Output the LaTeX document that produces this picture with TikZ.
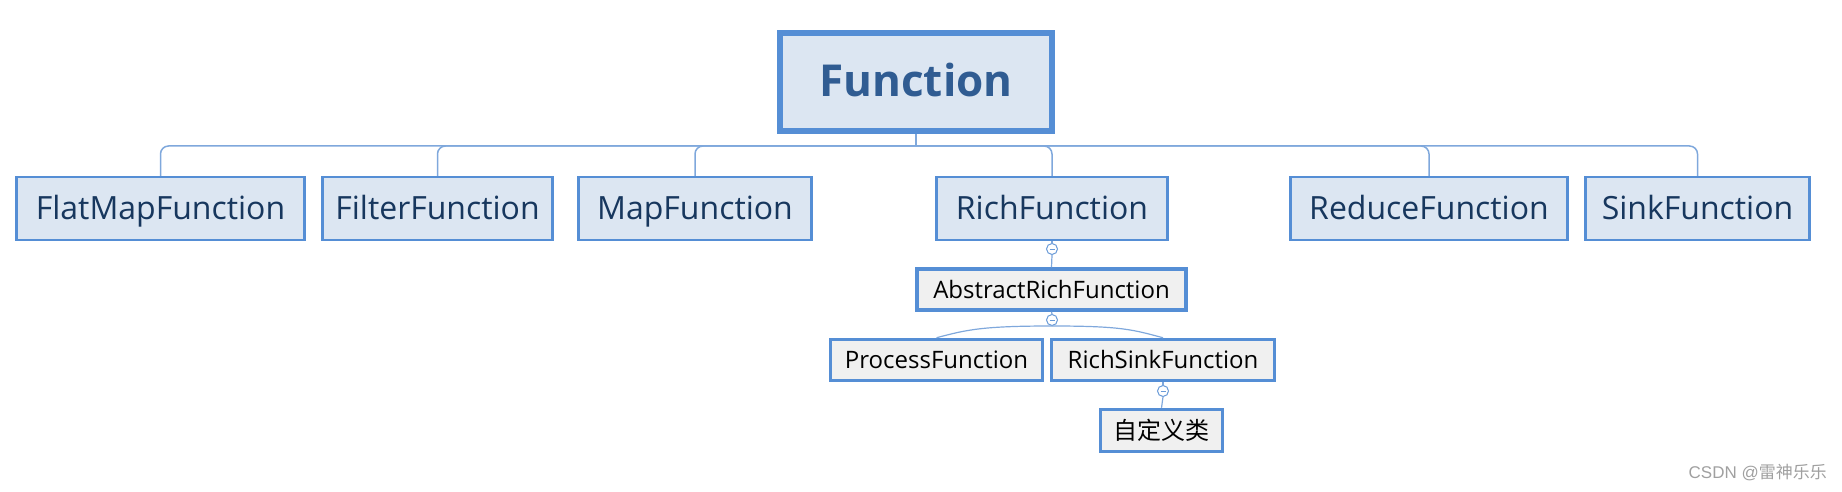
\documentclass[tikz,border=0pt]{standalone}
\usepackage{fontspec}
\setmainfont{Open Sans}
\newfontfamily\cjk{Noto Sans CJK SC}
\newfontfamily\wmlatin{Liberation Sans}
\definecolor{boxblue}{HTML}{558ED5}
\definecolor{lightblue}{HTML}{DCE6F2}
\definecolor{subgray}{HTML}{F0F0F0}
\definecolor{navy}{HTML}{17375E}
\definecolor{roottext}{HTML}{305C92}
\definecolor{linkblue}{HTML}{7FA8DC}
\definecolor{knobblue}{HTML}{6A9BD8}
\definecolor{wmgray}{HTML}{A0A0A0}
\begin{document}
\begin{tikzpicture}[x=1pt,y=-1pt,
  root/.style={draw=boxblue, fill=lightblue, line width=6pt, minimum width=272pt, minimum height=98pt, inner sep=0pt,
    font=\fontsize{44}{50}\selectfont\bfseries, text=roottext, text height=30pt, text depth=0pt},
  lvl/.style={draw=boxblue, fill=lightblue, line width=2.5pt, minimum height=63pt, inner sep=0pt,
    font=\fontsize{32}{38}\selectfont, text=navy, text height=22pt, text depth=0pt},
  sub/.style={draw=boxblue, fill=subgray, line width=3.5pt, minimum height=41pt, inner sep=0pt,
    font=\fontsize{24}{28}\selectfont, text=black, text height=17pt, text depth=0pt},
  knob/.style={circle, draw=knobblue, fill=white, line width=1pt, minimum size=11pt, inner sep=0pt,
    path picture={\draw[knobblue, line width=0.8pt] ([xshift=-2.5pt]path picture bounding box.center) -- ([xshift=2.5pt]path picture bounding box.center);}},
  link/.style={draw=linkblue, line width=1.5pt},
  sublink/.style={link, line width=1.2pt},
  branch/.style={link, rounded corners=8pt}]
\useasboundingbox (0,0) rectangle (1842,492);

\node[root] (func) at (916,82) {Function};

\node[lvl, minimum width=288pt] (flat) at (160.5,208.5) {FlatMapFunction};
\node[lvl, minimum width=230pt] (filter) at (437.5,208.5) {FilterFunction};
\node[lvl, minimum width=233pt] (map) at (695,208.5) {MapFunction};
\node[lvl, minimum width=231pt] (rich) at (1052,208.5) {RichFunction};
\node[lvl, minimum width=277pt] (reduce) at (1429,208.5) {ReduceFunction};
\node[lvl, minimum width=224pt] (sink) at (1697.5,208.5) {SinkFunction};

\coordinate (bus) at (916,146);
\draw[link] (func.south) -- (bus);
\foreach \c in {flat,filter,map,rich,reduce,sink}
  \draw[branch] (bus) -- (bus -| \c.north) -- (\c.north);

\node[sub, minimum width=269pt] (abs) at (1051.5,289.5) {AbstractRichFunction};
\node[sub, minimum width=212pt] (proc) at (936.5,360) {ProcessFunction};
\node[sub, minimum width=223pt] (rsink) at (1163,360) {RichSinkFunction};
\node[sub, minimum width=122pt, minimum height=42pt, font=\cjk\fontsize{24}{28}\selectfont, text height=20pt, text depth=2pt] (custom) at (1161.5,430.5) {自定义类};

\node[knob] (k1) at (1052,249) {};
\node[knob] (k2) at (1052,320) {};
\node[knob] (k3) at (1163,391) {};

\draw[sublink] (rich.south) -- (k1.north);
\draw[sublink] (k1.south) -- (abs.north);
\draw[sublink] (abs.south) -- (k2.north);
\draw[sublink] (k2.south) .. controls +(-70,0) and +(30,-8) .. (proc.north);
\draw[sublink] (k2.south) .. controls +(70,0) and +(-30,-8) .. (rsink.north);
\draw[sublink] (rsink.south) -- (k3.north);
\draw[sublink] (k3.south) -- (custom.north);

\node[anchor=east, text=wmgray, font=\cjk\fontsize{17}{20}\selectfont, inner sep=0pt] (wm) at (1827,473) {{\wmlatin CSDN @}雷神乐乐};
\end{tikzpicture}
\end{document}
